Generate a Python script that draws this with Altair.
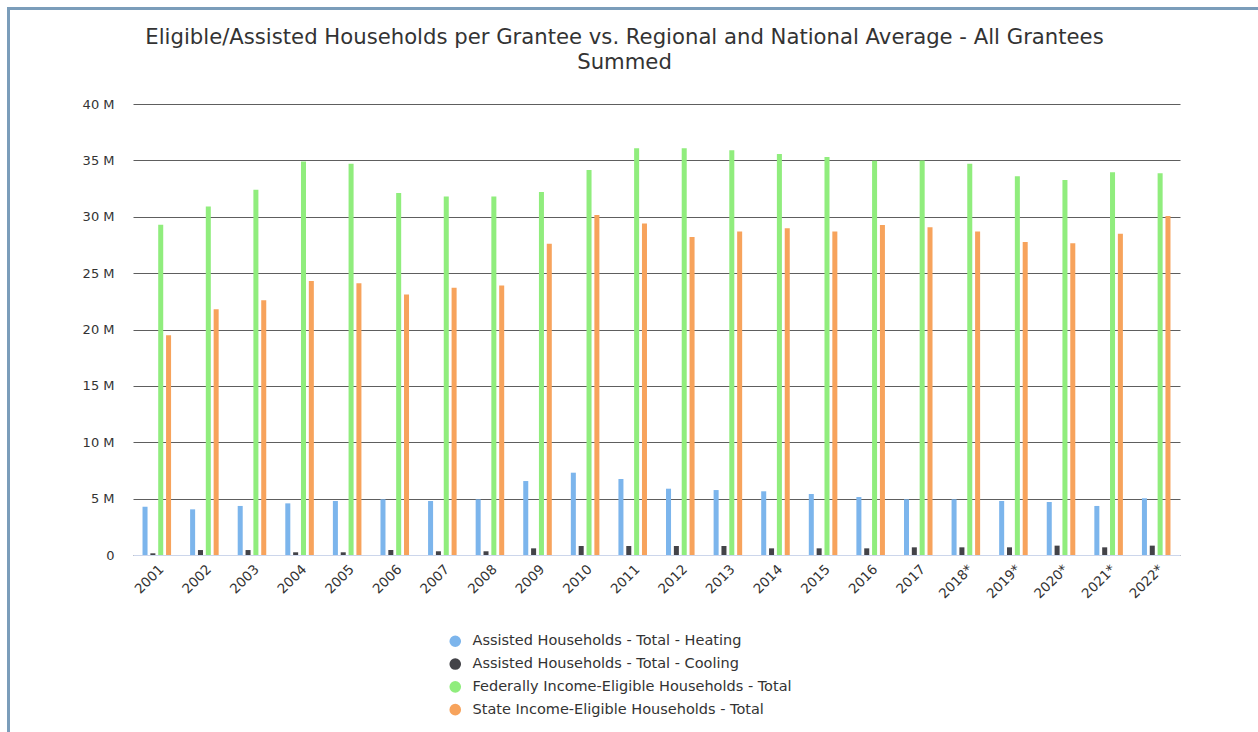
import altair as alt
import pandas as pd

years = ["2001", "2002", "2003", "2004", "2005", "2006", "2007", "2008", "2009", "2010", "2011",
         "2012", "2013", "2014", "2015", "2016", "2017", "2018*", "2019*", "2020*", "2021*", "2022*"]

series_names = [
    "Assisted Households - Total - Heating",
    "Assisted Households - Total - Cooling",
    "Federally Income-Eligible Households - Total",
    "State Income-Eligible Households - Total",
]
series_colors = ["#7cb5ec", "#434348", "#90ed7d", "#f7a35c"]

# values in millions
heating = [4.28, 4.05, 4.35, 4.58, 4.79, 4.94, 4.79, 4.94, 6.56, 7.30, 6.74,
           5.88, 5.76, 5.65, 5.41, 5.14, 4.94, 4.94, 4.79, 4.70, 4.35, 5.03]
cooling = [0.15, 0.44, 0.44, 0.24, 0.24, 0.44, 0.33, 0.33, 0.59, 0.80, 0.80,
           0.80, 0.80, 0.59, 0.59, 0.59, 0.68, 0.68, 0.68, 0.83, 0.68, 0.83]
federal = [29.3, 30.9, 32.4, 34.9, 34.7, 32.1, 31.8, 31.8, 32.2, 34.15, 36.07,
           36.07, 35.9, 35.57, 35.3, 34.97, 35.0, 34.7, 33.6, 33.26, 33.94, 33.85]
state = [19.5, 21.8, 22.6, 24.3, 24.1, 23.1, 23.7, 23.9, 27.6, 30.15, 29.4,
         28.2, 28.7, 28.97, 28.7, 29.27, 29.06, 28.7, 27.76, 27.64, 28.5, 30.06]

y_ticks = [0, 5, 10, 15, 20, 25, 30, 35, 40]

rows = []
for name, vals in zip(series_names, [heating, cooling, federal, state]):
    for yr, v in zip(years, vals):
        rows.append({"year": yr, "series": name, "value": v})
df = pd.DataFrame(rows)

FONT = "DejaVu Sans"

bars = alt.Chart(df).mark_bar().encode(
    x=alt.X("year:N", sort=years,
            scale=alt.Scale(paddingInner=0.4, paddingOuter=0.2),
            axis=alt.Axis(title=None, labelAngle=315, ticks=False, domain=True,
                          domainColor="#ccd6eb", domainWidth=1, labelFontSize=13.5,
                          labelColor="#333333", labelFont=FONT, labelPadding=7)),
    xOffset=alt.XOffset("series:N", sort=series_names,
                        scale=alt.Scale(paddingInner=0.36, paddingOuter=0)),
    y=alt.Y("value:Q", scale=alt.Scale(domain=[0, 40], nice=False),
            axis=alt.Axis(title=None, values=y_ticks, domain=False, ticks=False,
                          labelExpr="datum.value == 0 ? '0' : datum.value + ' M'",
                          gridColor="#5e5e5e", gridWidth=1, labelPadding=19,
                          labelFontSize=13, labelColor="#333333", labelFont=FONT)),
    color=alt.Color("series:N", sort=series_names,
                    scale=alt.Scale(domain=series_names, range=series_colors),
                    legend=alt.Legend(title=None, orient="none", legendX=315, legendY=530,
                                      symbolType="circle", symbolSize=135,
                                      symbolStrokeWidth=0, labelFontSize=14.5,
                                      labelFont=FONT, labelColor="#333333", labelLimit=0,
                                      labelOffset=10, rowPadding=7.8, symbolOpacity=1)),
)

frame_data = pd.DataFrame({"k": [0]})
frame_left = alt.Chart(frame_data).mark_rule(color="#7b9dba", strokeWidth=3).encode(
    x=alt.value(-124.5), y=alt.value(-97), y2=alt.value(628))
frame_top = alt.Chart(frame_data).mark_rule(color="#7b9dba", strokeWidth=3).encode(
    x=alt.value(-126), x2=alt.value(1125), y=alt.value(-95.5))

# the frame rules extend the group's bounds up to about -98.5, so the title offset
# is measured from there: a negative offset brings the title back down above the plot
chart = alt.layer(bars, frame_left, frame_top).properties(
    width=1047, height=451,
    padding={"left": 133, "top": 104, "right": 78, "bottom": 177},
    autosize=alt.AutoSizeParams(type="none"),
    background="white",
    title=alt.TitleParams(
        text=["Eligible/Assisted Households per Grantee vs. Regional and National Average - All Grantees",
              "Summed"],
        anchor="middle", frame="group", font=FONT, fontSize=21.2, fontWeight="normal",
        color="#333333", lineHeight=25, offset=-68, dx=-32),
).configure_view(stroke=None)

chart.save("out.html", embed_options={"renderer": "svg", "actions": False})
